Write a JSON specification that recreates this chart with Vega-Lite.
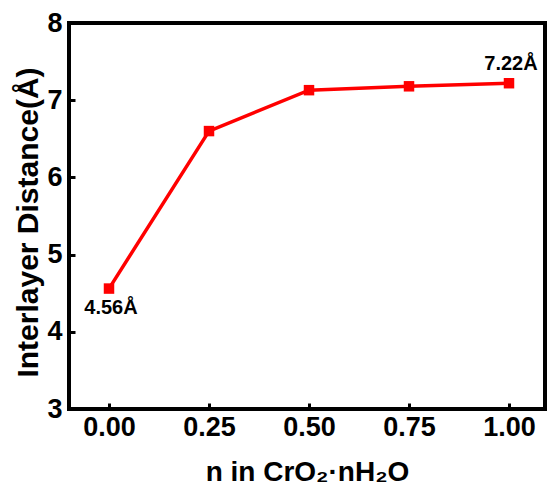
{
  "$schema": "https://vega.github.io/schema/vega-lite/v6.json",
  "autosize": {"type": "none"},
  "padding": {"left": 69, "top": 23, "right": 3, "bottom": 84},
  "width": 476,
  "height": 386,
  "background": "white",
  "config": {
    "font": "Liberation Sans",
    "view": {"stroke": "black", "strokeWidth": 4},
    "axis": {
      "domain": false,
      "grid": false,
      "ticks": true,
      "tickSize": -6,
      "tickWidth": 3,
      "tickColor": "black",
      "labelFont": "Liberation Sans",
      "labelFontWeight": "bold",
      "labelFontSize": 27,
      "labelColor": "black",
      "titleFont": "Liberation Sans",
      "titleFontWeight": "bold",
      "titleColor": "black"
    }
  },
  "data": {
    "values": [
      {"n": 0.0, "d": 4.56},
      {"n": 0.25, "d": 6.6},
      {"n": 0.5, "d": 7.13},
      {"n": 0.75, "d": 7.18},
      {"n": 1.0, "d": 7.22}
    ]
  },
  "encoding": {
    "x": {
      "field": "n",
      "type": "quantitative",
      "scale": {"domain": [-0.1, 1.09], "nice": false, "zero": false},
      "axis": {
        "values": [0, 0.25, 0.5, 0.75, 1.0],
        "format": ".2f",
        "labelPadding": 11,
        "title": "n in CrO₂·nH₂O",
        "titleFontSize": 28,
        "titleBaseline": "alphabetic",
        "titleY": 71
      }
    },
    "y": {
      "field": "d",
      "type": "quantitative",
      "scale": {"domain": [3, 8], "nice": false, "zero": false},
      "axis": {
        "values": [3, 4, 5, 6, 7, 8],
        "labelPadding": 13,
        "title": "Interlayer Distance(Å)",
        "titleFontSize": 30,
        "titleBaseline": "middle",
        "titleX": -41,
        "titleY": 199
      }
    }
  },
  "layer": [
    {"mark": {"type": "line", "color": "#ff0000", "strokeWidth": 3.5}},
    {"mark": {"type": "point", "shape": "square", "filled": true, "color": "#ff0000", "size": 110, "opacity": 1}},
    {
      "transform": [
        {"filter": "datum.n == 0"},
        {"calculate": "format(datum.d, '.2f') + 'Å'", "as": "label"}
      ],
      "mark": {"type": "text", "fontWeight": "bold", "fontSize": 20, "dy": 19, "dx": 2, "color": "black"},
      "encoding": {"text": {"field": "label"}}
    },
    {
      "transform": [
        {"filter": "datum.n == 1"},
        {"calculate": "format(datum.d, '.2f') + 'Å'", "as": "label"}
      ],
      "mark": {"type": "text", "fontWeight": "bold", "fontSize": 20, "dy": -19, "dx": 2, "color": "black"},
      "encoding": {"text": {"field": "label"}}
    }
  ]
}
